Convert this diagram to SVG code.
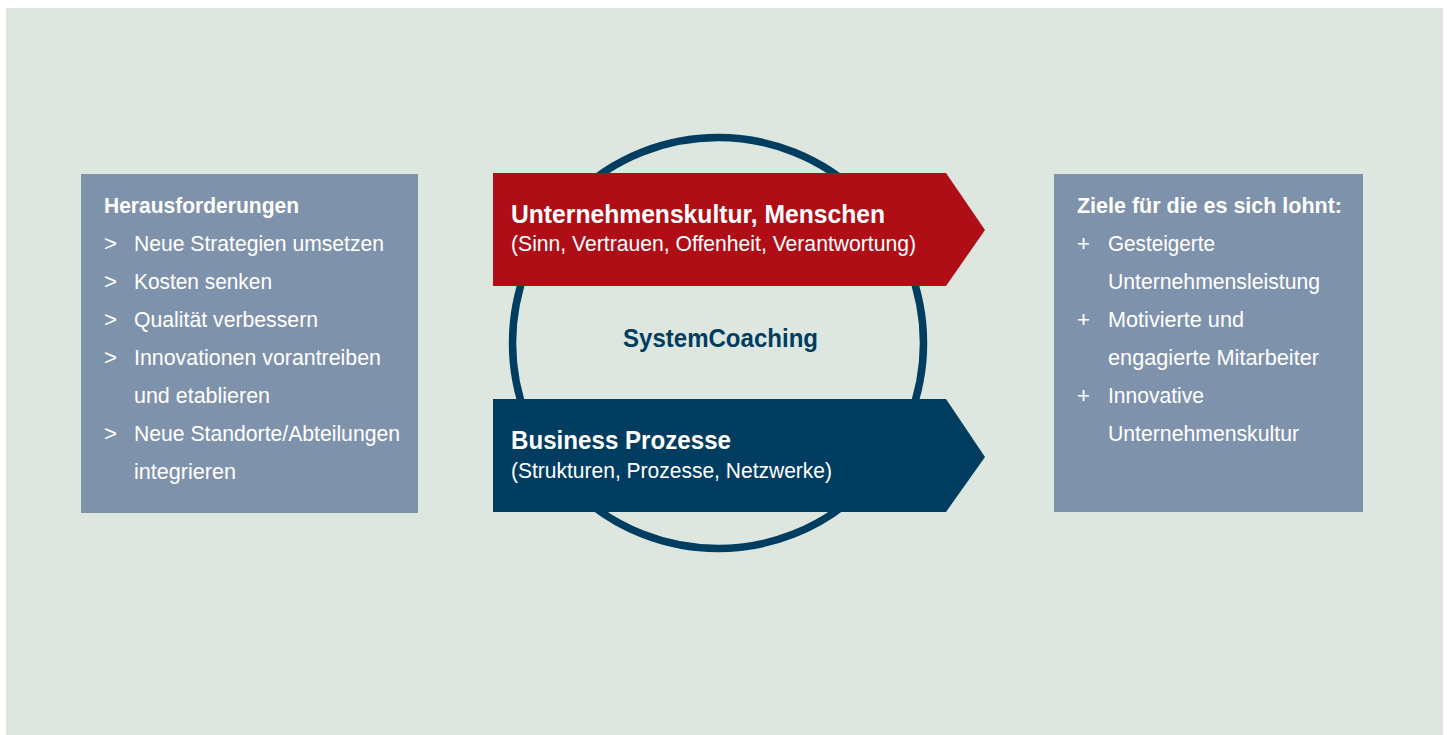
<svg xmlns="http://www.w3.org/2000/svg" width="1451" height="735" viewBox="0 0 1451 735">
<style>
text{font-family:"Liberation Sans",Arial,sans-serif;fill:#fff}
.b{font-weight:bold}
.t{font-size:22px}
.h{font-size:26px;font-weight:bold}
.box{fill:#7f92ab}
</style>
<rect x="0" y="0" width="1451" height="735" fill="#fff"/>
<rect x="6" y="8" width="1437" height="727" fill="#dde7e0"/>
<g id="connectors">
<circle cx="718" cy="343" r="205.5" fill="none" stroke="#003d61" stroke-width="7.5"/>
</g>
<g id="challenges">
<rect class="box" x="81" y="174" width="337" height="339"/>
<text class="t b" x="104" y="213" textLength="195" lengthAdjust="spacingAndGlyphs">Herausforderungen</text>
<text class="t" x="104" y="251" textLength="13" lengthAdjust="spacingAndGlyphs">&gt;</text><text class="t" x="134" y="251" textLength="250" lengthAdjust="spacingAndGlyphs">Neue Strategien umsetzen</text>
<text class="t" x="104" y="289" textLength="13" lengthAdjust="spacingAndGlyphs">&gt;</text><text class="t" x="134" y="289" textLength="138" lengthAdjust="spacingAndGlyphs">Kosten senken</text>
<text class="t" x="104" y="327" textLength="13" lengthAdjust="spacingAndGlyphs">&gt;</text><text class="t" x="134" y="327" textLength="184" lengthAdjust="spacingAndGlyphs">Qualität verbessern</text>
<text class="t" x="104" y="365" textLength="13" lengthAdjust="spacingAndGlyphs">&gt;</text><text class="t" x="134" y="365" textLength="247" lengthAdjust="spacingAndGlyphs">Innovationen vorantreiben</text>
<text class="t" x="134" y="403" textLength="136" lengthAdjust="spacingAndGlyphs">und etablieren</text>
<text class="t" x="104" y="441" textLength="13" lengthAdjust="spacingAndGlyphs">&gt;</text><text class="t" x="134" y="441" textLength="266" lengthAdjust="spacingAndGlyphs">Neue Standorte/Abteilungen</text>
<text class="t" x="134" y="479" textLength="102" lengthAdjust="spacingAndGlyphs">integrieren</text>
</g>
<g id="culture">
<polygon points="493,173 946,173 985,230 946,286 493,286" fill="#b00e17"/>
<text class="h" x="511" y="223" textLength="374" lengthAdjust="spacingAndGlyphs">Unternehmenskultur, Menschen</text>
<text class="t" x="511" y="251" textLength="405" lengthAdjust="spacingAndGlyphs">(Sinn, Vertrauen, Offenheit, Verantwortung)</text>
</g>
<g id="center">
<text class="h" x="623" y="347" textLength="195" lengthAdjust="spacingAndGlyphs" style="fill:#003d61">SystemCoaching</text>
</g>
<g id="business">
<polygon points="493,399 946,399 985,457 946,512 493,512" fill="#003d61"/>
<text class="h" x="511" y="449" textLength="220" lengthAdjust="spacingAndGlyphs">Business Prozesse</text>
<text class="t" x="511" y="478" textLength="321" lengthAdjust="spacingAndGlyphs">(Strukturen, Prozesse, Netzwerke)</text>
</g>
<g id="goals">
<rect class="box" x="1054" y="174" width="309" height="338"/>
<text class="t b" x="1077" y="213" textLength="265" lengthAdjust="spacingAndGlyphs">Ziele für die es sich lohnt:</text>
<text class="t" x="1077" y="251" textLength="13" lengthAdjust="spacingAndGlyphs">+</text><text class="t" x="1108" y="251" textLength="107" lengthAdjust="spacingAndGlyphs">Gesteigerte</text>
<text class="t" x="1108" y="289" textLength="212" lengthAdjust="spacingAndGlyphs">Unternehmensleistung</text>
<text class="t" x="1077" y="327" textLength="13" lengthAdjust="spacingAndGlyphs">+</text><text class="t" x="1108" y="327" textLength="136" lengthAdjust="spacingAndGlyphs">Motivierte und</text>
<text class="t" x="1108" y="365" textLength="211" lengthAdjust="spacingAndGlyphs">engagierte Mitarbeiter</text>
<text class="t" x="1077" y="403" textLength="13" lengthAdjust="spacingAndGlyphs">+</text><text class="t" x="1108" y="403" textLength="96" lengthAdjust="spacingAndGlyphs">Innovative</text>
<text class="t" x="1108" y="441" textLength="191" lengthAdjust="spacingAndGlyphs">Unternehmenskultur</text>
</g>
</svg>
